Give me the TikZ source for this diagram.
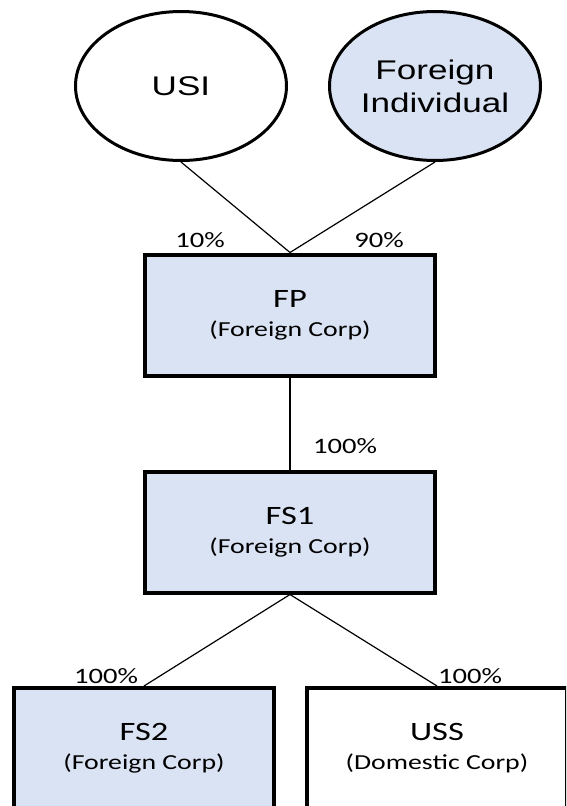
\documentclass[tikz,border=0pt]{standalone}
\usepackage{fontspec}
\usetikzlibrary{shapes.geometric}
\newfontfamily\ovalfont[FakeStretch=1.3]{Liberation Sans}
\newfontfamily\boxfont[FakeStretch=1.3]{Carlito}
\definecolor{paleblue}{HTML}{DAE3F3}
\newcommand\entname[1]{{\fontsize{26.5}{29}\selectfont #1}}
\begin{document}
\begin{tikzpicture}[x=1pt,y=-1pt,
  owner/.style={ellipse, draw, line width=3pt, minimum width=211pt,
    minimum height=149pt, inner sep=0pt, align=center,
    font=\ovalfont\fontsize{27}{33}\selectfont},
  corp/.style={rectangle, draw, line width=4pt, minimum height=121pt,
    inner sep=0pt, align=center, font=\boxfont\fontsize{21.4}{29}\selectfont},
  stake/.style={anchor=base, inner sep=0pt,
    font=\boxfont\fontsize{22}{26}\selectfont},
  link/.style={line width=1.2pt}]
\useasboundingbox (0,0) rectangle (566,806);
\clip (0,0) rectangle (566,806);

% owners
\node[owner] (usi) at (181,86) {USI};
\node[owner, fill=paleblue] (fi) at (435,86) {Foreign\\Individual};

% corporations
\node[corp, fill=paleblue, minimum width=290pt] (fp) at (290,315)
  {\entname{FP}\\(Foreign Corp)};
\node[corp, fill=paleblue, minimum width=290pt] (fs1) at (290,532)
  {\entname{FS1}\\(Foreign Corp)};
\node[corp, fill=paleblue, minimum width=260pt] (fs2) at (144,748.5)
  {\entname{FS2}\\(Foreign Corp)};
\node[corp, fill=white, minimum width=260pt] (uss) at (437,748.5)
  {\entname{USS}\\(Domestic Corp)};

% ownership links
\draw[link] (usi.south) -- (fp.north);
\draw[link] (fi.south) -- (fp.north);
\draw[link] (fp.south) -- (fs1.north);
\draw[link] (fs1.south) -- (fs2.north);
\draw[link] (fs1.south) -- (uss.north);

% percentages
\node[stake] (p10) at (200,247) {10\%};
\node[stake] (p90) at (379,247) {90\%};
\node[stake] (p100a) at (345,453) {100\%};
\node[stake] (p100b) at (106,683) {100\%};
\node[stake] (p100c) at (470,683) {100\%};
\end{tikzpicture}
\end{document}
